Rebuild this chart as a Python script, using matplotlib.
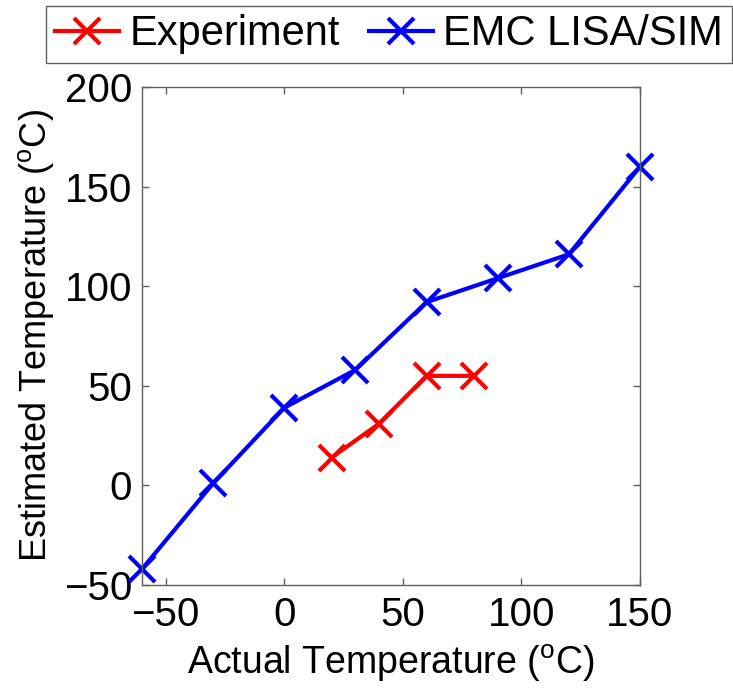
import matplotlib
matplotlib.use("Agg")
import matplotlib.pyplot as plt

# data
exp_actual = [20, 40, 60, 80]
exp_estimated = [14, 31, 55, 55]
sim_actual = [-60, -30, 0, 30, 60, 90, 120, 150]
sim_estimated = [-42, 1, 39, 58, 92, 104, 116, 160]

x_ticks = [-50, 0, 50, 100, 150]
y_ticks = [-50, 0, 50, 100, 150, 200]

plt.rcParams['font.family'] = ['Liberation Sans', 'DejaVu Sans']
plt.rcParams['mathtext.default'] = 'regular'


def main():
    fig = plt.figure(figsize=(7.33, 6.92), dpi=100)
    ax = fig.add_axes([0.1937, 0.1546, 0.6794, 0.7197])

    style = dict(linewidth=3, marker='x', markersize=19, markeredgewidth=3,
                 clip_on=False)
    ax.plot(exp_actual, exp_estimated, color='#ff0000', label='Experiment', **style)
    ax.plot(sim_actual, sim_estimated, color='#0000ff', label='EMC LISA/SIM', **style)

    ax.set_xlim(-60, 150)
    ax.set_ylim(-50, 200)
    ax.set_xticks(x_ticks)
    ax.set_yticks(y_ticks)
    ax.tick_params(direction='in', top=True, right=True, length=5, width=1,
                   color='#606060', labelsize=29)
    ax.tick_params(axis='x', pad=8)
    ax.tick_params(axis='y', pad=7)
    for sp in ax.spines.values():
        sp.set_color('#606060')
        sp.set_linewidth(1)

    ax.set_xlabel('Actual Temperature ($^{o}$C)', fontsize=27, labelpad=6)
    ax.set_ylabel('Estimated Temperature ($^{o}$C)', fontsize=26, labelpad=6)

    leg = fig.legend(loc='center', ncol=2, fontsize=30,
                     bbox_to_anchor=(0.5307, 0.9503),
                     handlelength=1.55, handletextpad=0.24, columnspacing=0.7,
                     borderpad=0.2, borderaxespad=0, fancybox=False,
                     framealpha=1, edgecolor='#606060')
    leg.get_frame().set_linewidth(1)

    fig.savefig('out.png', dpi=100)


if __name__ == "__main__":
    main()
